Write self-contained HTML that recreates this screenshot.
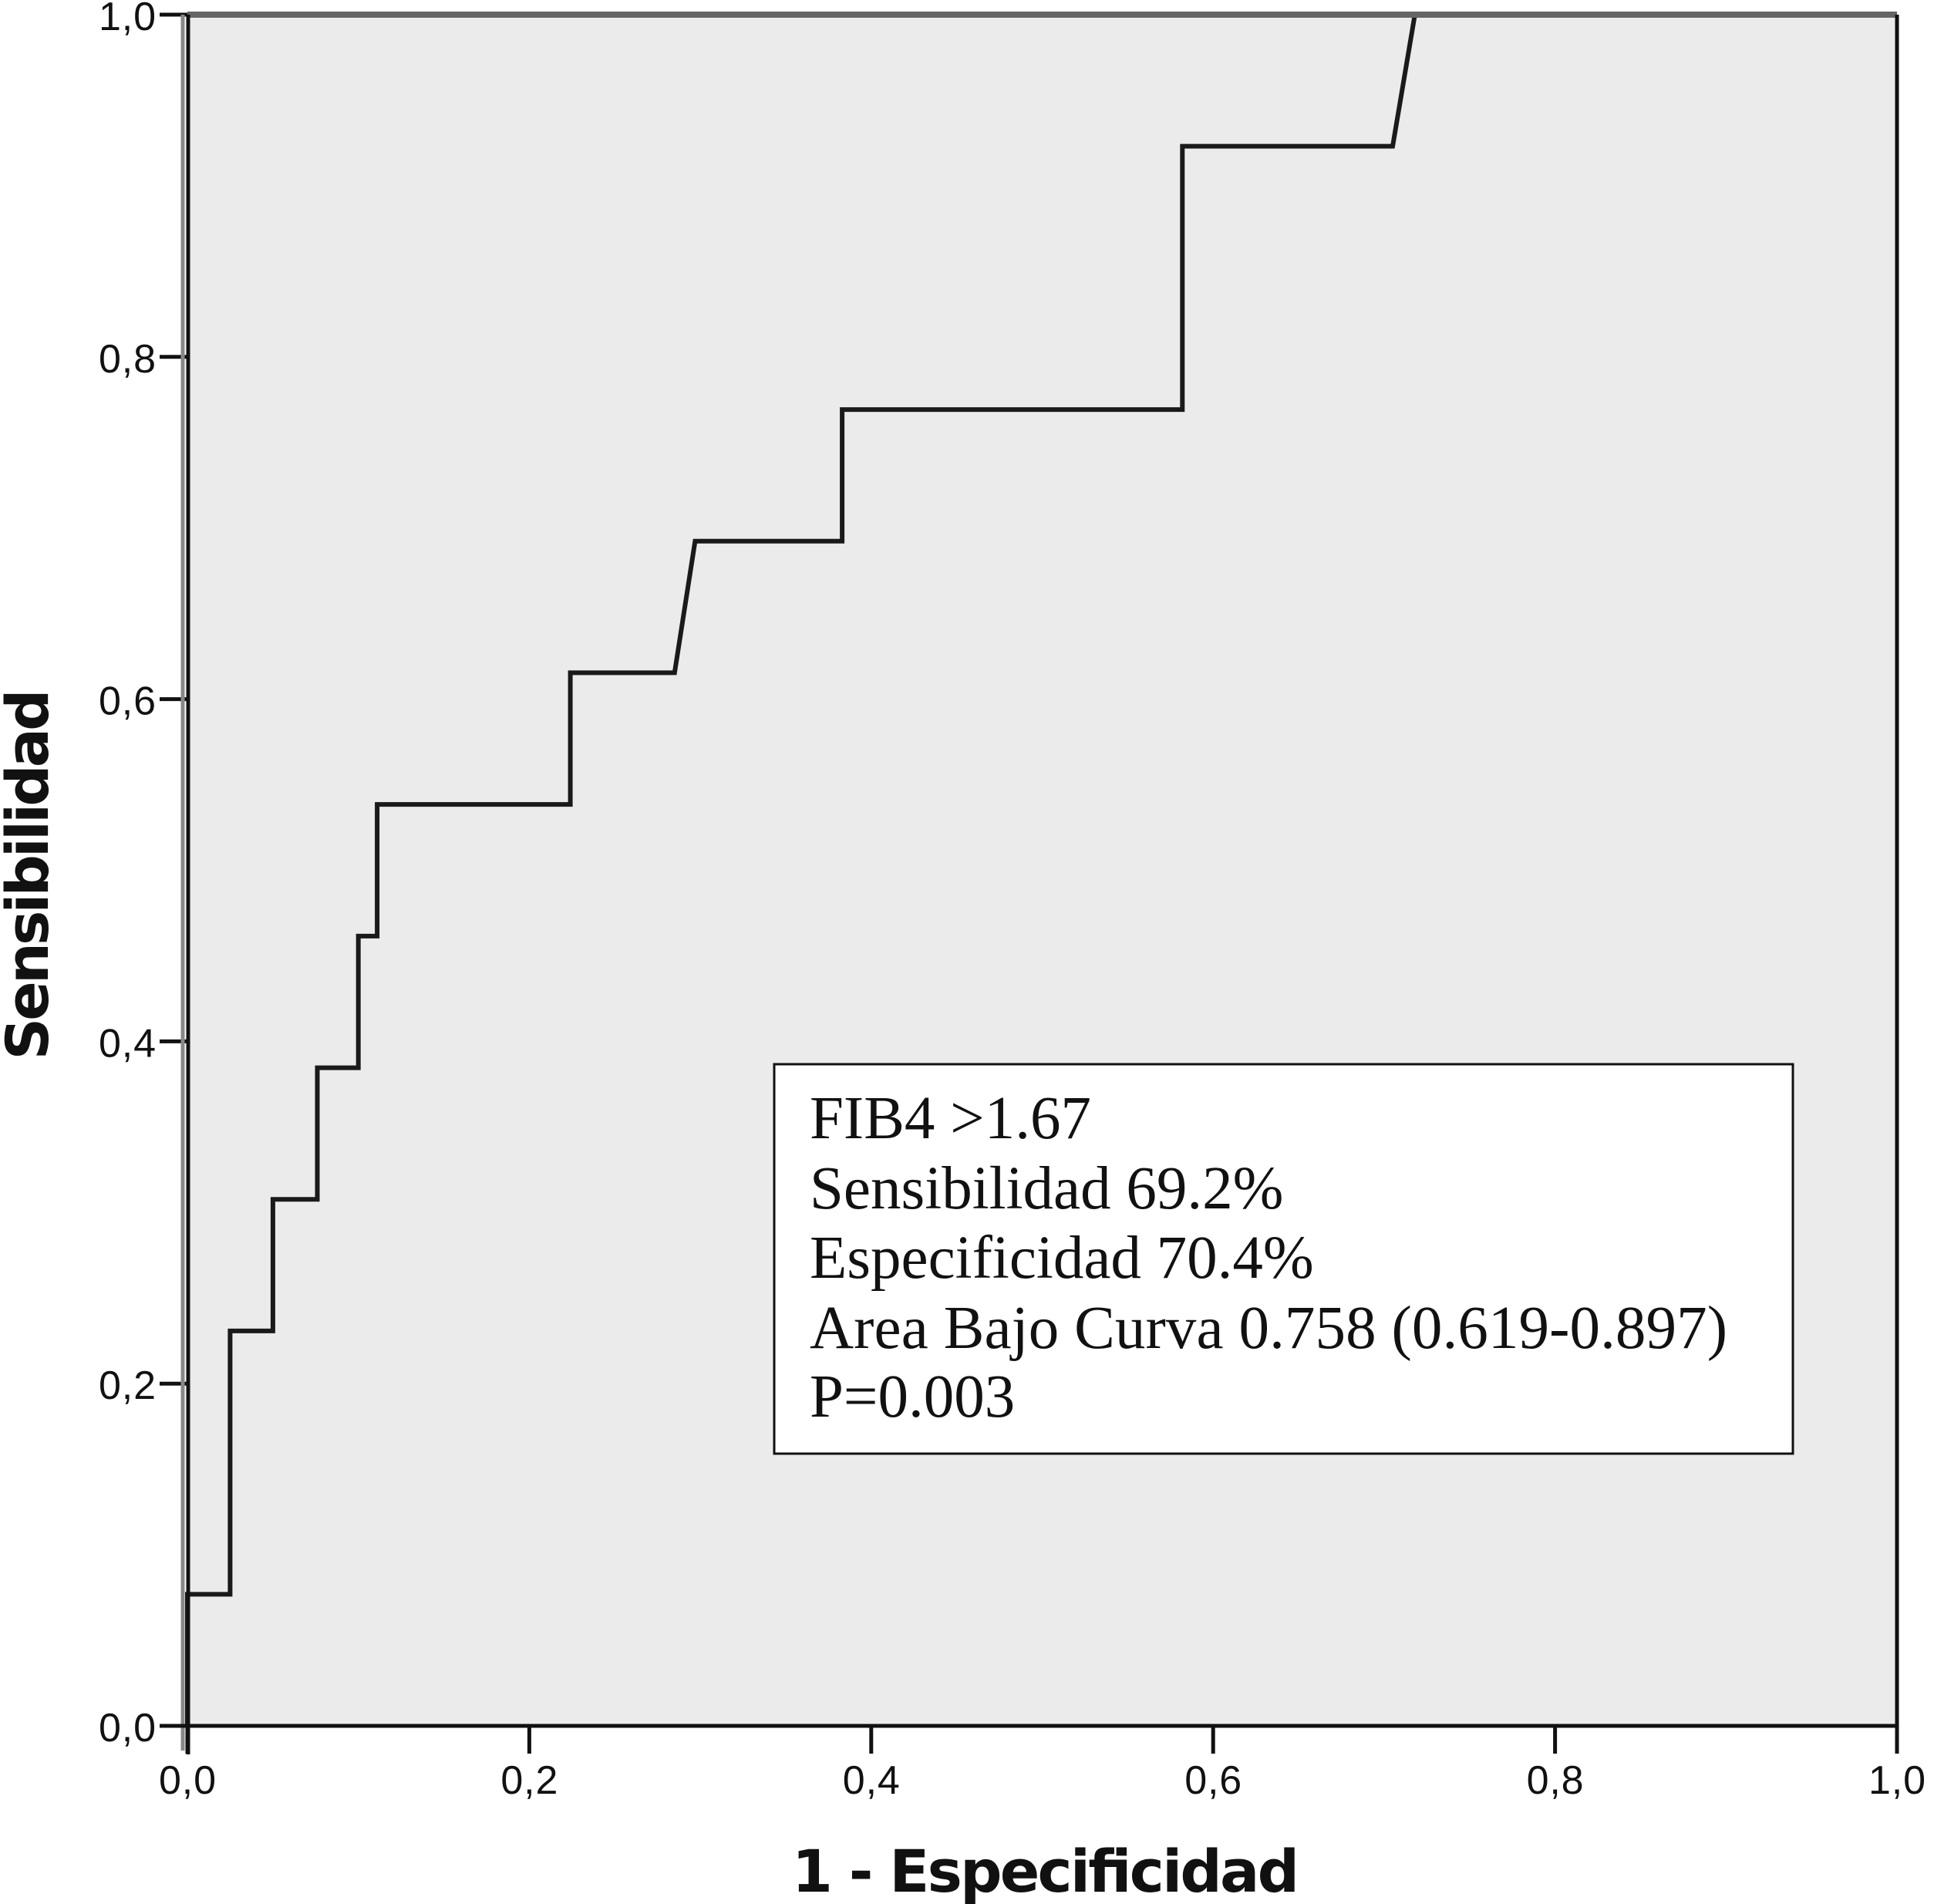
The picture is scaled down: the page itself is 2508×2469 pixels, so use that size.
<!DOCTYPE html>
<html><head><meta charset="utf-8"><style>
html,body{margin:0;padding:0;background:#fff;}
svg{display:block;}
</style></head><body>
<svg id="chart" width="2508" height="2469" viewBox="0 0 2508 2469" xmlns="http://www.w3.org/2000/svg">
<rect x="243" y="19" width="2217" height="2219" fill="#ebebeb"/>
<g id="axes"></g>
<path id="roc" fill="none" stroke="#1a1a1a" stroke-width="6" stroke-linejoin="miter"/>
<line x1="243" y1="19" x2="2460" y2="19" stroke="#666" stroke-width="8"/>
<line x1="2460" y1="19" x2="2460" y2="2270" stroke="#111" stroke-width="5"/>
<line x1="237" y1="19" x2="237" y2="2270" stroke="#888" stroke-width="5"/>
<line x1="244" y1="19" x2="244" y2="2275" stroke="#111" stroke-width="5"/>
<line x1="207" y1="2238" x2="2460" y2="2238" stroke="#111" stroke-width="5"/>
<g>
<rect x="1004" y="1380" width="1321" height="505" fill="#fff" stroke="#111" stroke-width="3"/>
<g font-family="Liberation Serif, serif" font-size="79" fill="#111">
<text x="1050" y="1476">FIB4 &gt;1.67</text>
<text x="1050" y="1567">Sensibilidad 69.2%</text>
<text x="1050" y="1657">Especificidad 70.4%</text>
<text x="1050" y="1748" textLength="1190">Area Bajo Curva 0.758 (0.619-0.897)</text>
<text x="1050" y="1837">P=0.003</text>
</g></g>
<text x="1356" y="2453" text-anchor="middle" font-family="DejaVu Sans, sans-serif" font-weight="bold" font-size="76" textLength="658" fill="#111">1 - Especificidad</text>
<text transform="translate(62,1134) rotate(-90)" text-anchor="middle" font-family="DejaVu Sans, sans-serif" font-weight="bold" font-size="76" textLength="481" fill="#111">Sensibilidad</text>
</svg>
<script>
const fprValues = [0, 0, 0.025, 0.025, 0.050, 0.050, 0.076, 0.076, 0.100, 0.100, 0.111, 0.111, 0.224, 0.224, 0.285, 0.297, 0.383, 0.383, 0.582, 0.582, 0.705, 0.718, 1.0];
const tprValues = [0, 0.0769, 0.0769, 0.2308, 0.2308, 0.3077, 0.3077, 0.3846, 0.3846, 0.4615, 0.4615, 0.5385, 0.5385, 0.6154, 0.6154, 0.6923, 0.6923, 0.7692, 0.7692, 0.9231, 0.9231, 1.0, 1.0];
const tickValues = [0, 0.2, 0.4, 0.6, 0.8, 1.0];
const tickLabels = ["0,0", "0,2", "0,4", "0,6", "0,8", "1,0"];

const X0 = 243, X1 = 2460, Y0 = 2238, Y1 = 19;
const xScale = v => X0 + v * (X1 - X0);
const yScale = v => Y0 - v * (Y0 - Y1);
const NS = "http://www.w3.org/2000/svg";
const axes = document.getElementById('axes');

let d = "";
fprValues.forEach((f, i) => { d += (i ? " L" : "M") + xScale(f).toFixed(1) + " " + yScale(tprValues[i]).toFixed(1); });
document.getElementById('roc').setAttribute('d', d);

tickValues.forEach((t, i) => {
  const y = yScale(t);
  const yl = document.createElementNS(NS, 'line');
  yl.setAttribute('x1', 207); yl.setAttribute('x2', 243);
  yl.setAttribute('y1', y); yl.setAttribute('y2', y);
  yl.setAttribute('stroke', '#111'); yl.setAttribute('stroke-width', 5);
  
  
  axes.appendChild(yl);
  const yt = document.createElementNS(NS, 'text');
  yt.setAttribute('x', 202); yt.setAttribute('y', y + 20);
  yt.setAttribute('text-anchor', 'end');
  yt.setAttribute('font-family', 'Liberation Sans, sans-serif');
  yt.setAttribute('font-size', '52');
  yt.setAttribute('textLength', '74');
  yt.setAttribute('fill', '#111');
  yt.textContent = tickLabels[i];
  
  
  axes.appendChild(yt);

  const x = xScale(t);
  const xl = document.createElementNS(NS, 'line');
  xl.setAttribute('x1', x); xl.setAttribute('x2', x);
  xl.setAttribute('y1', 2238); xl.setAttribute('y2', 2274);
  xl.setAttribute('stroke', '#111'); xl.setAttribute('stroke-width', 5);
  
  
  axes.appendChild(xl);
  const xt = document.createElementNS(NS, 'text');
  xt.setAttribute('x', x); xt.setAttribute('y', 2326);
  xt.setAttribute('text-anchor', 'middle');
  xt.setAttribute('font-family', 'Liberation Sans, sans-serif');
  xt.setAttribute('font-size', '52');
  xt.setAttribute('textLength', '74');
  xt.setAttribute('fill', '#111');
  xt.textContent = tickLabels[i];
  
  
  axes.appendChild(xt);
});
</script>
</body></html>
